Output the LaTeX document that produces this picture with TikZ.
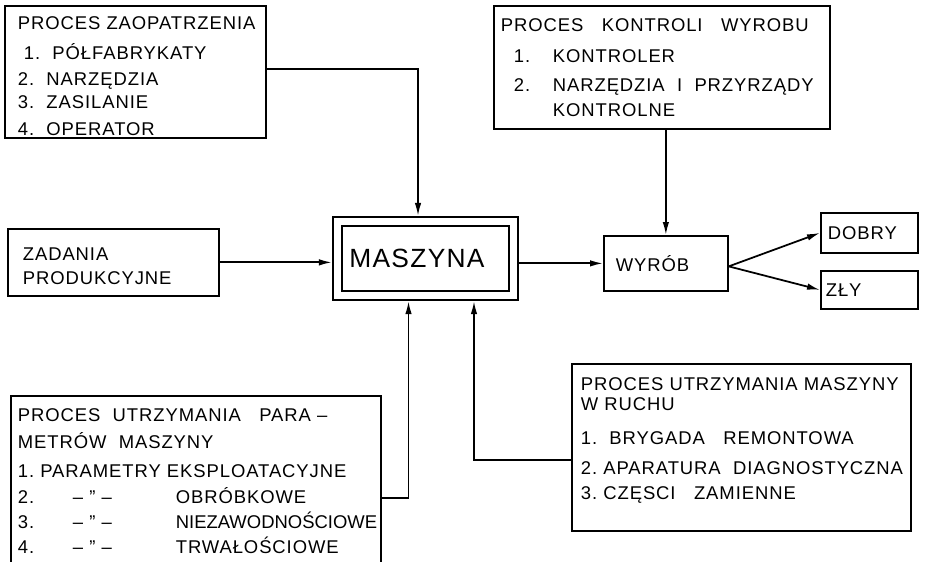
\documentclass[tikz,border=0pt]{standalone}
\usepackage{fontspec}
\setmainfont{Liberation Sans}[LetterSpace=5]
\usetikzlibrary{arrows.meta}
\hyphenpenalty=10000
\exhyphenpenalty=10000

\begin{document}
\begin{tikzpicture}[x=0.02cm,y=-0.02cm,
    blok/.style={draw,line width=1pt,anchor=north west,align=left,inner ysep=0pt,
      font=\fontsize{10.5}{12.6}\selectfont},
    strz/.style={line width=1pt,-{Latex[length=0.26cm,width=0.13cm]}}]
    \path[use as bounding box,clip] (0,0) rectangle (942,561);
    \node[blok,inner xsep=0.26cm,text width=4.7cm,minimum height=2.64cm] (zaop) at (4,5)
        {\rule{0pt}{0.42cm}PROCES~ZAOPATRZENIA\\[0.16cm]
        \hspace{0.12cm}1.~~PÓŁFABRYKATY\\[0.08cm]
        2.~~NARZĘDZIA\\[0.02cm]
        3.~~ZASILANIE\\[0.08cm]
        4.~~OPERATOR};
    \node[blok,inner xsep=0.14cm,text width=6.44cm,minimum height=2.46cm] (kontr) at (493,5)
        {PROCES~~~KONTROLI~~~WYROBU\\[0.18cm]
        \hspace{0.26cm}\makebox[0.78cm][l]{1.}KONTROLER\\[0.14cm]
        \hspace{0.26cm}\makebox[0.78cm][l]{2.}NARZĘDZIA~~I~~PRZYRZĄDY\\[0.06cm]
        \hspace{1.04cm}KONTROLNE};
    \node[blok,inner xsep=0.3cm,text width=3.62cm,minimum height=1.34cm] (zad) at (7,228)
        {\rule{0pt}{0.42cm}ZADANIA\\[0.04cm]PRODUKCYJNE};
    \node[draw,double,double distance=0.15cm,line width=0.9pt,outer sep=0.107cm,
        minimum width=3.53cm,minimum height=1.49cm,inner xsep=0.24cm,text width=3.05cm,align=left,
        font=\fontsize{15}{18}\selectfont] (masz) at (425.5,258.5) {MASZYNA};
    \node[blok,inner xsep=0.24cm,text width=2cm,minimum height=1.1cm] (wyrob) at (603,235) {WYRÓB};
    \node[blok,inner xsep=0.14cm,text width=1.66cm,minimum height=0.8cm] (dobry) at (820,212) {DOBRY};
    \node[blok,inner xsep=0.1cm,text width=1.74cm,minimum height=0.76cm] (zly) at (820,270) {ZŁY};
    \node[blok,inner xsep=0.14cm,text width=7.12cm,minimum height=3.4cm] (utrzpar) at (10,395)
        {PROCES~~UTRZYMANIA~~~PARA~--\\[0.1cm]
        METRÓW~~MASZYNY\\[0.14cm]
        1.~PARAMETRY~EKSPLOATACYJNE\\[0.08cm]
        \makebox[1.1cm][l]{2.}\makebox[2.06cm][l]{-- " --}OBRÓBKOWE\\[0.06cm]
        \makebox[1.1cm][l]{3.}\makebox[2.06cm][l]{-- " --}{\addfontfeature{LetterSpace=0}NIEZAWODNOŚCIOWE}\\[0.04cm]
        \makebox[1.1cm][l]{4.}\makebox[2.06cm][l]{-- " --}TRWAŁOŚCIOWE};
    \node[blok,inner xsep=0.18cm,text width=6.42cm,minimum height=3.34cm] (utrzruch) at (571,363)
        {PROCES~UTRZYMANIA~MASZYNY\\[-0.04cm]
        W~RUCHU\\[0.24cm]
        1.~~BRYGADA~~~REMONTOWA\\[0.16cm]
        2.~APARATURA~~DIAGNOSTYCZNA\\[0.04cm]
        3.~CZĘSCI~~~ZAMIENNE\\[-0.08cm]\mbox{}};
    % polaczenia
    \draw[strz] ([yshift=0.06cm]zaop.east) -| ([xshift=-0.15cm]masz.north);
    \draw[strz] (wyrob.north |- kontr.south) -- (wyrob.north);
    \draw[strz] (zad.east) -- (zad.east -| masz.west);
    \draw[strz] (wyrob.west -| masz.east) -- (wyrob.west);
    \draw[strz] ([yshift=-0.06cm]wyrob.east) -- (dobry.west);
    \draw[strz] ([yshift=-0.06cm]wyrob.east) -- (zly.west);
    \draw[strz] ([yshift=-0.34cm]utrzpar.east) -| ([xshift=-0.34cm]masz.south);
    \draw[strz] ([yshift=-0.25cm]utrzruch.west) -| ([xshift=0.97cm]masz.south);
\end{tikzpicture}
\end{document}
